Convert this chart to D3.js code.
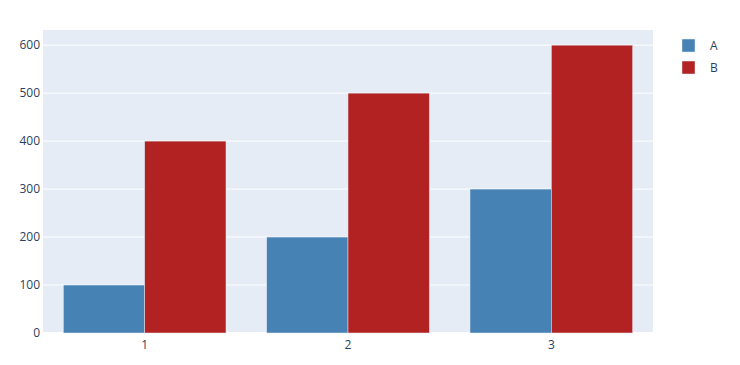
<!DOCTYPE html>
<html>
<head>
<meta charset="utf-8">
<script src="https://cdn.jsdelivr.net/npm/d3@7"></script>
<style>
  body { margin: 0; background: #fff; }
  text { font-family: "Open Sans", Verdana, Arial, sans-serif; }
</style>
</head>
<body>
<script>
const categories = ["1", "2", "3"];
const seriesNames = ["A", "B"];
const valuesA = [100, 200, 300];
const valuesB = [400, 500, 600];
const yTicks = [0, 100, 200, 300, 400, 500, 600];
const colors = { A: "#4682b4", B: "#b22222" };

const width = 740;
const height = 365;
const margin = { top: 30, right: 87, bottom: 32, left: 43 };
const plotW = width - margin.left - margin.right;
const plotH = height - margin.top - margin.bottom;

const svg = d3
  .select("body")
  .append("svg")
  .attr("width", width)
  .attr("height", height);

const g = svg.append("g").attr("transform", `translate(${margin.left},${margin.top})`);

g.append("rect")
  .attr("width", plotW)
  .attr("height", plotH)
  .attr("fill", "#e5ecf6");

const x = d3.scaleBand().domain(categories).range([0, plotW]).paddingInner(0.2).paddingOuter(0.1);
const xSub = d3.scaleBand().domain(seriesNames).range([0, x.bandwidth()]);
const y = d3.scaleLinear().domain([0, 600 * 1.0526]).range([plotH, 0]);

// grid
g.append("g")
  .selectAll("line")
  .data(yTicks)
  .join("line")
  .attr("x1", 0)
  .attr("x2", plotW)
  .attr("y1", (d) => y(d))
  .attr("y2", (d) => y(d))
  .attr("stroke", "#fff")
  .attr("stroke-width", (d) => (d === 0 ? 2 : 1));

const rows = categories.map((c, i) => ({ cat: c, A: valuesA[i], B: valuesB[i] }));

g.append("g")
  .selectAll("g")
  .data(rows)
  .join("g")
  .attr("transform", (d) => `translate(${x(d.cat)},0)`)
  .selectAll("rect")
  .data((d) => seriesNames.map((s) => ({ s, v: d[s] })))
  .join("rect")
  .attr("x", (d) => xSub(d.s))
  .attr("y", (d) => y(d.v))
  .attr("width", xSub.bandwidth())
  .attr("height", (d) => y(0) - y(d.v))
  .attr("fill", (d) => colors[d.s])
  .attr("stroke", "#e5ecf6")
  .attr("stroke-width", 0.5);

// y axis labels
g.append("g")
  .selectAll("text")
  .data(yTicks)
  .join("text")
  .attr("x", -3)
  .attr("y", (d) => y(d))
  .attr("dy", "0.35em")
  .attr("text-anchor", "end")
  .attr("font-size", 12)
  .attr("fill", "#2a3f5f")
  .text((d) => d);

// x axis labels
g.append("g")
  .selectAll("text")
  .data(categories)
  .join("text")
  .attr("x", (d) => x(d) + x.bandwidth() / 2)
  .attr("y", plotH + 16)
  .attr("text-anchor", "middle")
  .attr("font-size", 12)
  .attr("fill", "#2a3f5f")
  .text((d) => d);

// legend
const legend = svg
  .append("g")
  .attr("transform", "translate(682,39)")
  .selectAll("g")
  .data(seriesNames)
  .join("g")
  .attr("transform", (d, i) => `translate(0,${i * 22})`);

legend
  .append("rect")
  .attr("width", 13)
  .attr("height", 13)
  .attr("fill", (d) => colors[d])
  .attr("stroke", "#e5ecf6")
  .attr("stroke-width", 0.5);

legend
  .append("text")
  .attr("x", 28)
  .attr("y", 6.5)
  .attr("dy", "0.35em")
  .attr("font-size", 12)
  .attr("fill", "#2a3f5f")
  .text((d) => d);
</script>
</body>
</html>
